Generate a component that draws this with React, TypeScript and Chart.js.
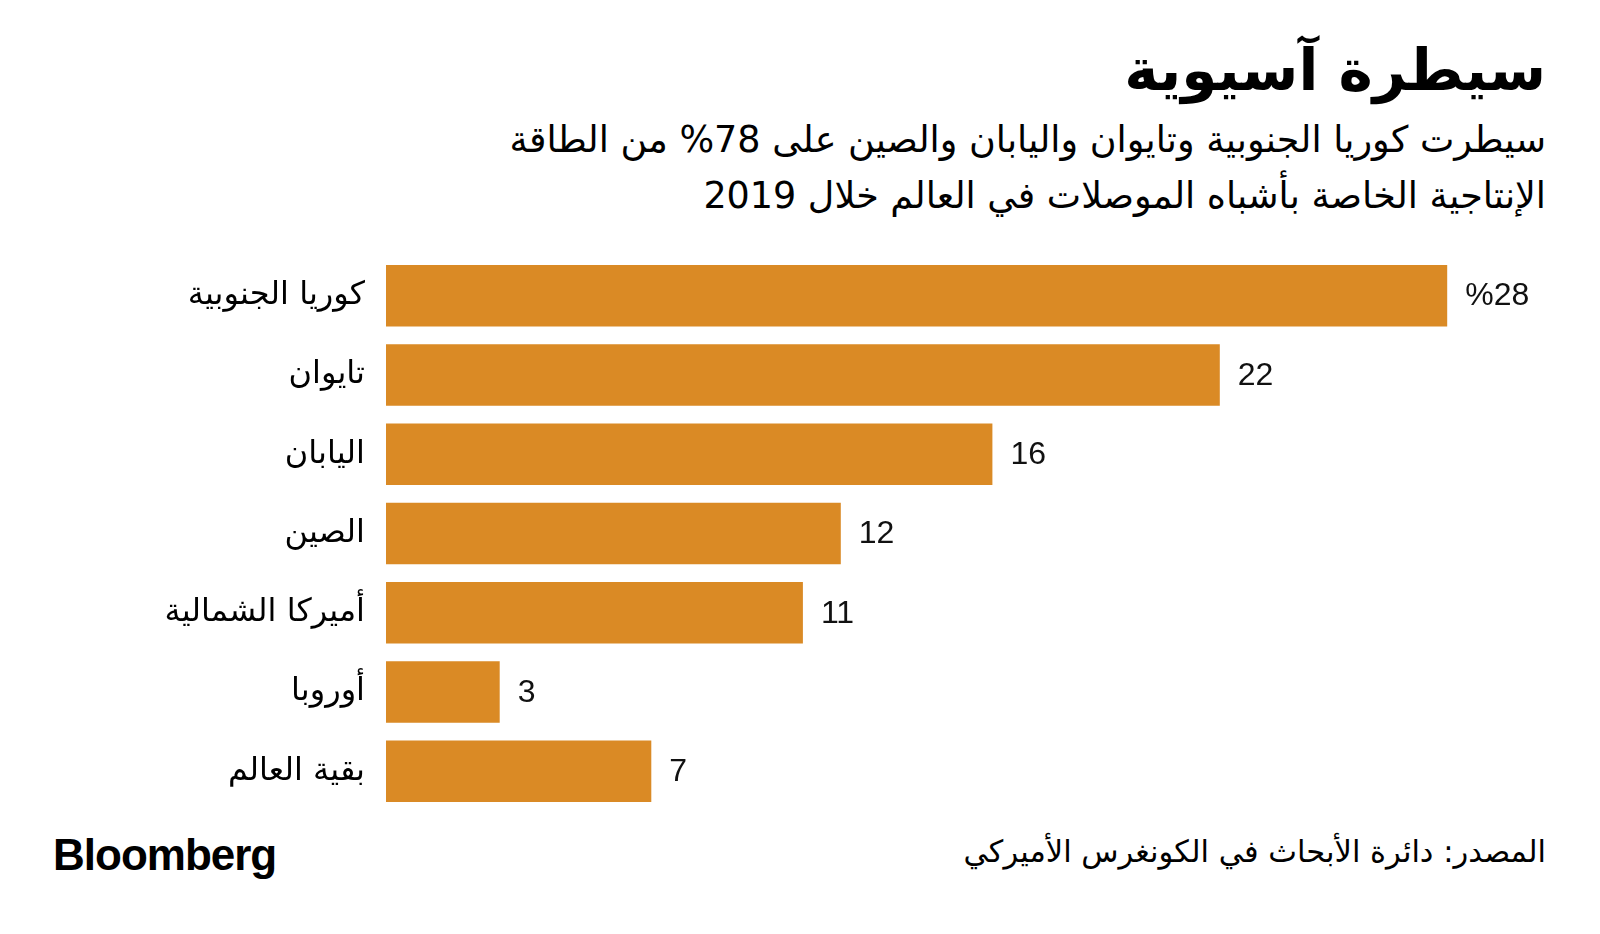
import React, { useEffect, useRef } from "react";
import { Chart, registerables } from "chart.js";

Chart.register(...registerables);

const categories = [
  "كوريا الجنوبية",
  "تايوان",
  "اليابان",
  "الصين",
  "أميركا الشمالية",
  "أوروبا",
  "بقية العالم",
];
const shares = [28, 22, 16, 12, 11, 3, 7];
const valueLabels = ["%28", "22", "16", "12", "11", "3", "7"];

const titleText = "سيطرة آسيوية";
const subtitleLines = [
  "سيطرت كوريا الجنوبية وتايوان واليابان والصين على 78% من الطاقة",
  "الإنتاجية الخاصة بأشباه الموصلات في العالم خلال 2019",
];
const sourceText = "المصدر: دائرة الأبحاث في الكونغرس الأميركي";

const BAR_COLOR = "#DA8A25";
const ARABIC_FONT = "'DejaVu Sans', sans-serif";
const NUM_FONT = "'Liberation Sans', Arial, sans-serif";

const valueLabelPlugin = {
  id: "valueLabels",
  afterDatasetsDraw(chart: any) {
    const ctx = chart.ctx;
    const meta = chart.getDatasetMeta(0);
    ctx.save();
    ctx.font = `32px ${NUM_FONT}`;
    ctx.fillStyle = "#111";
    ctx.textAlign = "left";
    ctx.textBaseline = "middle";
    ctx.direction = "ltr";
    meta.data.forEach((bar: any, i: number) => {
      ctx.fillText(valueLabels[i], bar.x + 18, bar.y + 1);
    });
    ctx.restore();
  },
};

export default function App() {
  const canvasRef = useRef<HTMLCanvasElement | null>(null);

  useEffect(() => {
    document.body.style.margin = "0";
    const canvas = canvasRef.current;
    if (!canvas) return;
    const chart = new Chart(canvas, {
      type: "bar",
      data: {
        labels: categories,
        datasets: [
          {
            data: shares,
            backgroundColor: BAR_COLOR,
            borderWidth: 0,
            categoryPercentage: 1,
            barPercentage: 0.776,
          },
        ],
      },
      options: {
        indexAxis: "y",
        animation: false,
        responsive: false,
        maintainAspectRatio: false,
        layout: { padding: { left: 0, right: 77, top: 0, bottom: 0 } },
        plugins: {
          legend: { display: false },
          tooltip: { enabled: false },
          title: { display: false },
        },
        scales: {
          x: {
            display: false,
            min: 0,
            max: 30,
          },
          y: {
            grid: { display: false, drawTicks: false },
            border: { display: false },
            ticks: {
              display: false,
            },
            afterFit(scale: any) {
              scale.width = 386;
              scale.paddingTop = 0;
              scale.paddingBottom = 0;
            },
          },
        },
      },
      plugins: [
        valueLabelPlugin,
        {
          id: "catLabels",
          afterDatasetsDraw(chart: any) {
            const ctx = chart.ctx;
            const yScale = chart.scales.y;
            ctx.save();
            ctx.font = `32px ${ARABIC_FONT}`;
            ctx.fillStyle = "#000";
            ctx.textAlign = "right";
            ctx.textBaseline = "middle";
            categories.forEach((c, i) => {
              ctx.fillText(c, chart.chartArea.left - 21, yScale.getPixelForValue(i));
            });
            ctx.restore();
          },
        },
      ],
    });
    return () => chart.destroy();
  }, []);

  return (
    <div
      style={{
        position: "absolute",
        left: 0,
        top: 0,
        width: 1600,
        height: 934,
        background: "#fff",
        overflow: "hidden",
      }}
    >
      <div
        dir="rtl"
        style={{
          position: "absolute",
          right: 54,
          top: 41,
          fontFamily: ARABIC_FONT,
          fontWeight: "bold",
          fontSize: 58,
          lineHeight: "58px",
          color: "#000",
          whiteSpace: "nowrap",
        }}
      >
        {titleText}
      </div>
      {subtitleLines.map((line, i) => (
        <div
          key={i}
          dir="rtl"
          style={{
            position: "absolute",
            right: 54,
            top: 118 + i * 56,
            fontFamily: ARABIC_FONT,
            fontSize: 36.5,
            lineHeight: "44px",
            color: "#000",
            whiteSpace: "nowrap",
          }}
        >
          {line}
        </div>
      ))}
      <canvas
        ref={canvasRef}
        width={1600}
        height={555}
        style={{ position: "absolute", left: 0, top: 256, width: 1600, height: 555 }}
      />
      <div
        style={{
          position: "absolute",
          left: 53,
          top: 833,
          fontFamily: NUM_FONT,
          fontWeight: "bold",
          fontSize: 44,
          lineHeight: "44px",
          letterSpacing: "-1px",
          color: "#000",
          whiteSpace: "nowrap",
        }}
      >
        Bloomberg
      </div>
      <div
        dir="rtl"
        style={{
          position: "absolute",
          right: 54,
          top: 834,
          fontFamily: ARABIC_FONT,
          fontSize: 30.5,
          lineHeight: "36px",
          color: "#000",
          whiteSpace: "nowrap",
        }}
      >
        {sourceText}
      </div>
    </div>
  );
}
